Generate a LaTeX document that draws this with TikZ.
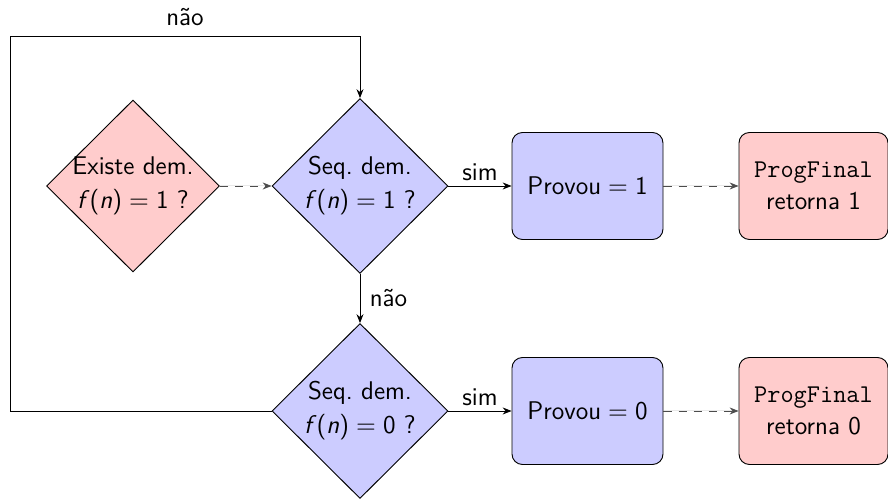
\documentclass[tikz,border=0pt]{standalone}
\usetikzlibrary{shapes.geometric,arrows.meta}
\begin{document}
\begin{tikzpicture}[x=0.43pt,y=-0.43pt,line width=0.4pt,
  every node/.style={font=\sffamily\fontsize{11}{13.6}\selectfont},
  dia/.style={diamond,draw,align=center,inner sep=0pt,minimum width=176*0.43pt,minimum height=175*0.43pt},
  pinkfill/.style={fill=red!20},
  bluefill/.style={fill=blue!20},
  box/.style={draw,rounded corners=4.5pt,align=center,minimum width=151*0.43pt,minimum height=107*0.43pt,inner sep=0pt},
  arr/.style={-{Stealth[length=3.8pt,width=3pt]}},
  darr/.style={arr,dash pattern=on 3.5pt off 3pt,draw=black!70,fill=black!70},
  lbl/.style={inner sep=2pt}
]
\useasboundingbox (0,0) rectangle (888,500);
\node[dia,pinkfill,inner sep=-1.3pt,minimum width=173*0.43pt,minimum height=172*0.43pt] (d1) at (133,186) {Existe dem.\\[1pt]\textit{f}(\textit{n})${}={}$1 ?};
\node[dia,bluefill] (d2) at (360,186) {Seq.\ dem.\\[1pt]\textit{f}(\textit{n})${}={}$1 ?};
\node[dia,bluefill] (d3) at (360,411) {Seq.\ dem.\\[1pt]\textit{f}(\textit{n})${}={}$0 ?};
\node[box,bluefill] (p1) at (587.5,186) {Provou${}={}$1};
\node[box,bluefill] (p0) at (587.5,411) {Provou${}={}$0};
\node[box,pinkfill,minimum width=149*0.43pt] (f1) at (813.5,186) {\texttt{ProgFinal}\\retorna 1};
\node[box,pinkfill,minimum width=149*0.43pt] (f0) at (813.5,411) {\texttt{ProgFinal}\\retorna 0};
\draw[darr] (d1.east) -- (d2.west);
\draw[arr] (d2.east) -- node[lbl,above] {sim} (p1.west);
\draw[arr] (d3.east) -- node[lbl,above] {sim} (p0.west);
\draw[darr] (p1.east) -- (f1.west);
\draw[darr] (p0.east) -- (f0.west);
\draw[arr] (d2.south) -- node[lbl,right,xshift=2pt] {não} (d3.north);
\coordinate (lb) at (10,411);
\coordinate (lt) at (10,36);
\coordinate (rt) at (360,36);
\draw[arr] (d3.west) -- (lb) -- (lt) -- node[lbl,above,yshift=2pt] {não} (rt) -- (d2.north);
\end{tikzpicture}
\end{document}
